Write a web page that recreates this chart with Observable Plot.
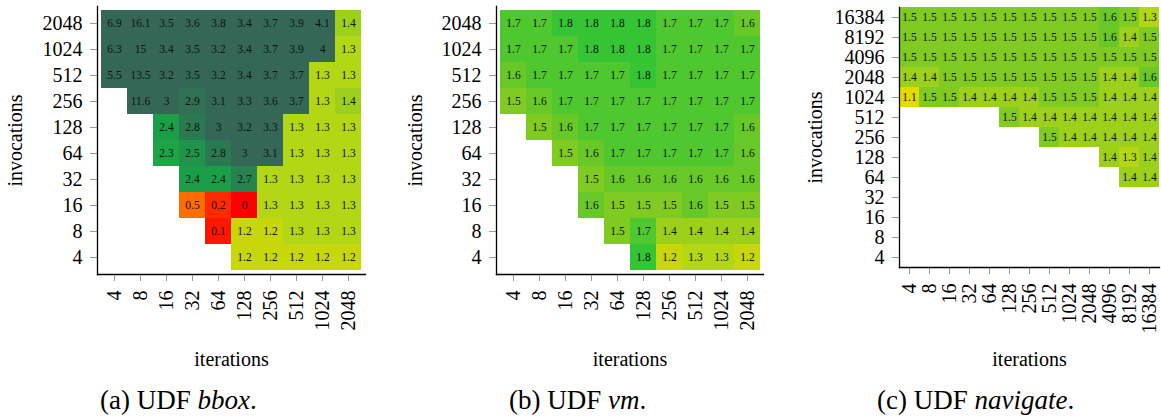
<!DOCTYPE html>
<html><head><meta charset="utf-8">
<script src="https://cdn.jsdelivr.net/npm/d3@7"></script>
<script src="https://cdn.jsdelivr.net/npm/@observablehq/plot@0.6"></script>
<style>
body{margin:0;background:#fff;font-family:"Liberation Serif","Tinos","Times New Roman",Times,"DejaVu Serif",serif;}
#wrap{position:relative;width:1161px;height:419px;overflow:hidden;background:#fff;}
.panel{position:absolute;top:0;}
.cap{position:absolute;top:387px;font-size:27px;line-height:1;white-space:nowrap;color:#000;}
</style></head><body>
<div id="wrap">
  <div class="panel" id="pa" style="left:0px"></div>
  <div class="panel" id="pb" style="left:400px"></div>
  <div class="panel" id="pc" style="left:800px"></div>
  <div class="cap" style="left:100px">(a) UDF <i>bbox</i>.</div>
  <div class="cap" style="left:509px">(b) UDF <i>vm</i>.</div>
  <div class="cap" style="left:877px">(c) UDF <i>navigate</i>.</div>
</div>
<script>
// tick labels (ascending)
const sizes10 = ["4","8","16","32","64","128","256","512","1024","2048"];
const sizes13 = ["4","8","16","32","64","128","256","512","1024","2048","4096","8192","16384"];

// grids: rows from top (largest invocations) to bottom (4); columns iterations ascending; null = no cell
const bboxGrid = [
  [6.9,16.1,3.5,3.6,3.8,3.4,3.7,3.9,4.1,1.4],
  [6.3,15,3.4,3.5,3.2,3.4,3.7,3.9,4,1.3],
  [5.5,13.5,3.2,3.5,3.2,3.4,3.7,3.7,1.3,1.3],
  [null,11.6,3,2.9,3.1,3.3,3.6,3.7,1.3,1.4],
  [null,null,2.4,2.8,3,3.2,3.3,1.3,1.3,1.3],
  [null,null,2.3,2.5,2.8,3,3.1,1.3,1.3,1.3],
  [null,null,null,2.4,2.4,2.7,1.3,1.3,1.3,1.3],
  [null,null,null,0.5,0.2,0,1.3,1.3,1.3,1.3],
  [null,null,null,null,0.1,1.2,1.2,1.3,1.3,1.3],
  [null,null,null,null,null,1.2,1.2,1.2,1.2,1.2]
];
const vmGrid = [
  [1.7,1.7,1.8,1.8,1.8,1.8,1.7,1.7,1.7,1.6],
  [1.7,1.7,1.7,1.8,1.8,1.8,1.7,1.7,1.7,1.7],
  [1.6,1.7,1.7,1.7,1.7,1.8,1.7,1.7,1.7,1.7],
  [1.5,1.6,1.7,1.7,1.7,1.7,1.7,1.7,1.7,1.7],
  [null,1.5,1.6,1.7,1.7,1.7,1.7,1.7,1.7,1.6],
  [null,null,1.5,1.6,1.7,1.7,1.7,1.7,1.7,1.6],
  [null,null,null,1.5,1.6,1.6,1.6,1.6,1.6,1.6],
  [null,null,null,1.6,1.5,1.5,1.5,1.6,1.5,1.5],
  [null,null,null,null,1.5,1.7,1.4,1.4,1.4,1.4],
  [null,null,null,null,null,1.8,1.2,1.3,1.3,1.2]
];
const navigateGrid = [
  [1.5,1.5,1.5,1.5,1.5,1.5,1.5,1.5,1.5,1.5,1.6,1.5,1.3],
  [1.5,1.5,1.5,1.5,1.5,1.5,1.5,1.5,1.5,1.5,1.6,1.4,1.5],
  [1.5,1.5,1.5,1.5,1.5,1.5,1.5,1.5,1.5,1.5,1.5,1.5,1.5],
  [1.4,1.4,1.5,1.5,1.5,1.5,1.5,1.5,1.5,1.5,1.4,1.4,1.6],
  [1.1,1.5,1.5,1.4,1.4,1.4,1.4,1.5,1.5,1.5,1.4,1.4,1.4],
  [null,null,null,null,null,1.5,1.4,1.4,1.4,1.4,1.4,1.4,1.4],
  [null,null,null,null,null,null,null,1.5,1.4,1.4,1.4,1.4,1.4],
  [null,null,null,null,null,null,null,null,null,null,1.4,1.3,1.4],
  [null,null,null,null,null,null,null,null,null,null,null,1.4,1.4],
  [null,null,null,null,null,null,null,null,null,null,null,null,null],
  [null,null,null,null,null,null,null,null,null,null,null,null,null],
  [null,null,null,null,null,null,null,null,null,null,null,null,null],
  [null,null,null,null,null,null,null,null,null,null,null,null,null]
];

// colour ramp stops
const colorStops = [0, 0.5, 1.1, 1.2, 1.3, 1.4, 1.5, 1.6, 1.7, 1.8, 2.4, 3.0];
const colorRange = ["#ff0000","#ff6c00","#e4da00","#c8d60c","#b3d615","#9cd01a","#80cb21","#68c828","#4fc72e","#35c434","#1a9e48","#346755"];

const serif = '"Liberation Serif", "Tinos", "Times New Roman", Times, "DejaVu Serif", serif';

function heat({grid, cols, width, height, mL, mR, mT, mB}) {
  const rows = cols.slice().reverse();
  const data = grid.flatMap((r, i) => r.map((v, j) => v == null ? null : {x: cols[j], y: rows[i], v})).filter(d => d);
  return Plot.plot({
    width, height, marginLeft: mL, marginRight: mR, marginTop: mT, marginBottom: mB,
    style: {fontFamily: serif, background: "white", overflow: "visible"},
    x: {type: "band", domain: cols, padding: 0},
    y: {type: "band", domain: rows, padding: 0},
    color: {type: "linear", domain: colorStops, range: colorRange, interpolate: "rgb", clamp: true},
    marks: [
      Plot.cell(data, {x: "x", y: "y", fill: "v", inset: 0}),
      Plot.text(data, {x: "x", y: "y", text: d => String(d.v), fontSize: 11.5, fill: "#111", fontFamily: serif}),
      Plot.axisY({tickSize: 7, tickPadding: 8, stroke: "#999", fill: "black", fontSize: 20, fontFamily: serif,
        label: "invocations", labelAnchor: "center", labelOffset: mL - 7}),
      Plot.axisX({tickSize: 7, tickPadding: 9, tickRotate: -90, stroke: "#999", fill: "black", fontSize: 20, fontFamily: serif,
        label: "iterations", labelAnchor: "center", labelOffset: 91 + (274 - (height - mB))}),
      Plot.frame({anchor: "left", stroke: "black", strokeWidth: 1.3}),
      Plot.frame({anchor: "bottom", stroke: "black", strokeWidth: 1.3})
    ]
  });
}

document.getElementById("pa").append(heat({grid: bboxGrid, cols: sizes10, width: 390, height: 375, mL: 97, mR: 25, mT: 6, mB: 101}));
document.getElementById("pb").append(heat({grid: vmGrid, cols: sizes10, width: 390, height: 375, mL: 96, mR: 27, mT: 6, mB: 101}));
document.getElementById("pc").append(heat({grid: navigateGrid, cols: sizes13, width: 361, height: 375, mL: 99, mR: 2, mT: 7, mB: 108}));
</script>
</body></html>
